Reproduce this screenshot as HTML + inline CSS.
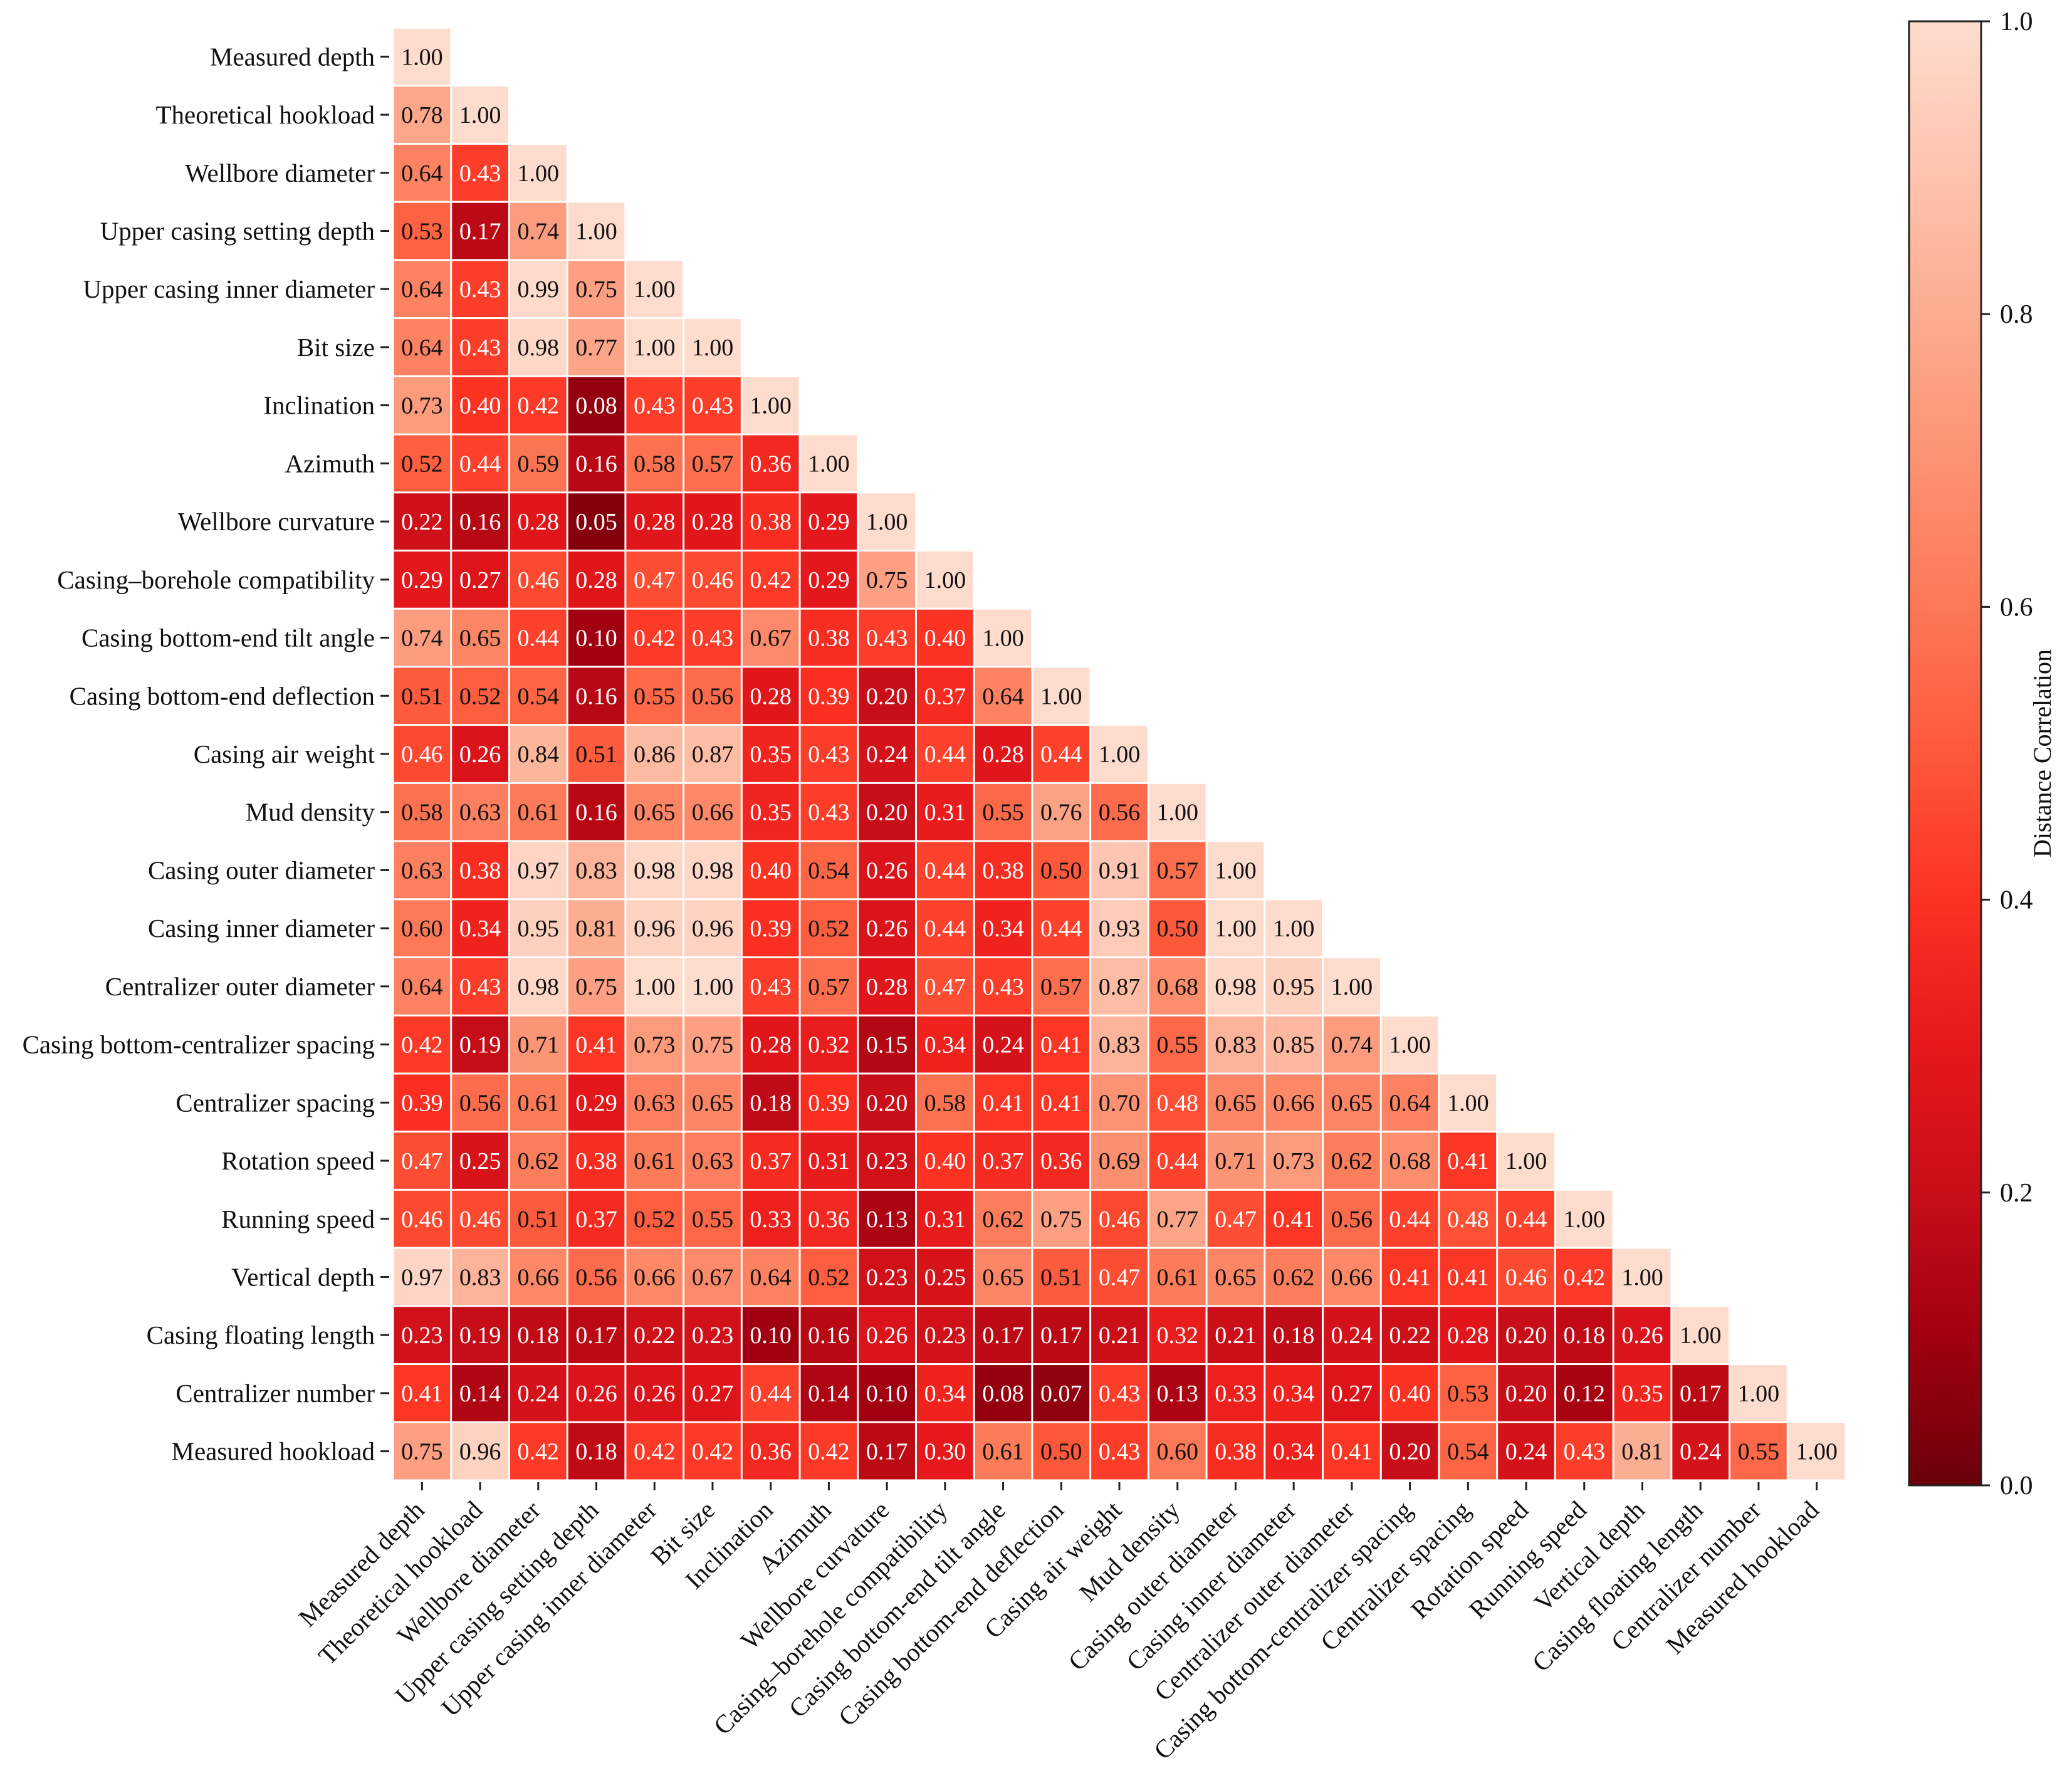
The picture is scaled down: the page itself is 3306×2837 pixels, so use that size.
<!DOCTYPE html>
<html><head><meta charset="utf-8"><style>
html,body{margin:0;padding:0;background:#fff;}
svg{display:block;font-family:"Liberation Serif",serif;}
</style></head><body>
<svg id="chart" width="3306" height="2837" viewBox="0 0 3306 2837" xmlns="http://www.w3.org/2000/svg">
<defs>
<linearGradient id="cbgrad" x1="0" y1="1" x2="0" y2="0"></linearGradient>
</defs>
<g id="cells"></g>
<g id="ylabels"></g>
<g id="xlabels"></g>
<g id="cbar"></g>
</svg>
<script>
const labels = ["Measured depth","Theoretical hookload","Wellbore diameter","Upper casing setting depth","Upper casing inner diameter","Bit size","Inclination","Azimuth","Wellbore curvature","Casing\u2013borehole compatibility","Casing bottom-end tilt angle","Casing bottom-end deflection","Casing air weight","Mud density","Casing outer diameter","Casing inner diameter","Centralizer outer diameter","Casing bottom-centralizer spacing","Centralizer spacing","Rotation speed","Running speed","Vertical depth","Casing floating length","Centralizer number","Measured hookload"];
const values = [
[1.00],
[0.78,1.00],
[0.64,0.43,1.00],
[0.53,0.17,0.74,1.00],
[0.64,0.43,0.99,0.75,1.00],
[0.64,0.43,0.98,0.77,1.00,1.00],
[0.73,0.40,0.42,0.08,0.43,0.43,1.00],
[0.52,0.44,0.59,0.16,0.58,0.57,0.36,1.00],
[0.22,0.16,0.28,0.05,0.28,0.28,0.38,0.29,1.00],
[0.29,0.27,0.46,0.28,0.47,0.46,0.42,0.29,0.75,1.00],
[0.74,0.65,0.44,0.10,0.42,0.43,0.67,0.38,0.43,0.40,1.00],
[0.51,0.52,0.54,0.16,0.55,0.56,0.28,0.39,0.20,0.37,0.64,1.00],
[0.46,0.26,0.84,0.51,0.86,0.87,0.35,0.43,0.24,0.44,0.28,0.44,1.00],
[0.58,0.63,0.61,0.16,0.65,0.66,0.35,0.43,0.20,0.31,0.55,0.76,0.56,1.00],
[0.63,0.38,0.97,0.83,0.98,0.98,0.40,0.54,0.26,0.44,0.38,0.50,0.91,0.57,1.00],
[0.60,0.34,0.95,0.81,0.96,0.96,0.39,0.52,0.26,0.44,0.34,0.44,0.93,0.50,1.00,1.00],
[0.64,0.43,0.98,0.75,1.00,1.00,0.43,0.57,0.28,0.47,0.43,0.57,0.87,0.68,0.98,0.95,1.00],
[0.42,0.19,0.71,0.41,0.73,0.75,0.28,0.32,0.15,0.34,0.24,0.41,0.83,0.55,0.83,0.85,0.74,1.00],
[0.39,0.56,0.61,0.29,0.63,0.65,0.18,0.39,0.20,0.58,0.41,0.41,0.70,0.48,0.65,0.66,0.65,0.64,1.00],
[0.47,0.25,0.62,0.38,0.61,0.63,0.37,0.31,0.23,0.40,0.37,0.36,0.69,0.44,0.71,0.73,0.62,0.68,0.41,1.00],
[0.46,0.46,0.51,0.37,0.52,0.55,0.33,0.36,0.13,0.31,0.62,0.75,0.46,0.77,0.47,0.41,0.56,0.44,0.48,0.44,1.00],
[0.97,0.83,0.66,0.56,0.66,0.67,0.64,0.52,0.23,0.25,0.65,0.51,0.47,0.61,0.65,0.62,0.66,0.41,0.41,0.46,0.42,1.00],
[0.23,0.19,0.18,0.17,0.22,0.23,0.10,0.16,0.26,0.23,0.17,0.17,0.21,0.32,0.21,0.18,0.24,0.22,0.28,0.20,0.18,0.26,1.00],
[0.41,0.14,0.24,0.26,0.26,0.27,0.44,0.14,0.10,0.34,0.08,0.07,0.43,0.13,0.33,0.34,0.27,0.40,0.53,0.20,0.12,0.35,0.17,1.00],
[0.75,0.96,0.42,0.18,0.42,0.42,0.36,0.42,0.17,0.30,0.61,0.50,0.43,0.60,0.38,0.34,0.41,0.20,0.54,0.24,0.43,0.81,0.24,0.55,1.00]
];
const cbTicks = [0.0,0.2,0.4,0.6,0.8,1.0];
const cbTitle = "Distance Correlation";

const NS="http://www.w3.org/2000/svg";
const X0=627, Y0=44, CELL=92.72;
const xPos = i => X0 + i*CELL;
const yPos = i => Y0 + i*CELL;
const CB_L=3046, CB_R=3161, CB_T=34, CB_B=2370;
const cbY = v => CB_B - v*(CB_B-CB_T);
const stops=[[0,[106,0,10]],[0.1,[160,0,15]],[0.2,[200,14,24]],[0.3,[230,24,28]],[0.4,[252,50,34]],[0.5,[253,88,58]],[0.6,[252,120,86]],[0.8,[252,172,144]],[1,[254,220,205]]];
function colorRGB(v){v=Math.max(0,Math.min(1,v));for(let i=1;i<stops.length;i++){if(v<=stops[i][0]){const a=stops[i-1],b=stops[i];const f=(v-a[0])/(b[0]-a[0]);return a[1].map((c,k)=>Math.round(c+(b[1][k]-c)*f));}}return stops[stops.length-1][1];}
const rgbStr = c => `rgb(${c[0]},${c[1]},${c[2]})`;
function lum(c){const l=c.map(x=>{x/=255;return x<=0.03928?x/12.92:Math.pow((x+0.055)/1.055,2.4);});return 0.2126*l[0]+0.7152*l[1]+0.0722*l[2];}
function mk(tag,attrs,parent){const e=document.createElementNS(NS,tag);for(const k in attrs)e.setAttribute(k,attrs[k]);parent.appendChild(e);return e;}
const thrLum = lum(colorRGB(0.485));

const cells=document.getElementById('cells');
values.forEach((row,r)=>{row.forEach((v,c)=>{
  const col=colorRGB(v);
  const rect=mk('rect',{x:xPos(c)+1.5,y:yPos(r)+1.5,width:CELL-3,height:CELL-3,fill:rgbStr(col)},cells);
  
  
  const t=mk('text',{x:xPos(c)+CELL/2,y:yPos(r)+CELL/2+13,'text-anchor':'middle','font-size':38,fill:lum(col)<thrLum?'#fff':'#111'},cells);
  t.textContent=v.toFixed(2);
  
  
});});

const yl=document.getElementById('ylabels');
labels.forEach((lab,i)=>{
  const cy=yPos(i)+CELL/2;
  mk('line',{x1:607,x2:621,y1:cy,y2:cy,stroke:'#222','stroke-width':3},yl);
  const t=mk('text',{x:598,y:cy+14,'text-anchor':'end','font-size':41,fill:'#111'},yl);
  t.textContent=lab;
  
  
});
const xl=document.getElementById('xlabels');
labels.forEach((lab,i)=>{
  const cx=xPos(i)+CELL/2;
  mk('line',{x1:cx,x2:cx,y1:2365,y2:2378,stroke:'#222','stroke-width':3},xl);
  const ax=cx+6, ay=2412;
  const t=mk('text',{x:ax,y:ay,'text-anchor':'end','font-size':41,fill:'#111',transform:`rotate(-45 ${ax} ${ay})`},xl);
  t.textContent=lab;
  
  
});

const grad=document.getElementById('cbgrad');
for(let k=0;k<=20;k++){const v=k/20;mk('stop',{offset:v,'stop-color':rgbStr(colorRGB(v))},grad);}
const cb=document.getElementById('cbar');
const bar=mk('rect',{x:CB_L,y:CB_T,width:CB_R-CB_L,height:CB_B-CB_T,fill:'url(#cbgrad)',stroke:'#222','stroke-width':3},cb);


cbTicks.forEach(v=>{
  const y=cbY(v);
  mk('line',{x1:CB_R,x2:CB_R+14,y1:y,y2:y,stroke:'#222','stroke-width':3},cb);
  const t=mk('text',{x:CB_R+30,y:y+14,'font-size':42,fill:'#111'},cb);
  t.textContent=v.toFixed(1);
  
  
});
const ct=mk('text',{x:3272,y:(CB_T+CB_B)/2,'text-anchor':'middle','font-size':40,fill:'#111',transform:`rotate(-90 3272 ${(CB_T+CB_B)/2})`},cb);
ct.textContent=cbTitle;


</script>
</body></html>
